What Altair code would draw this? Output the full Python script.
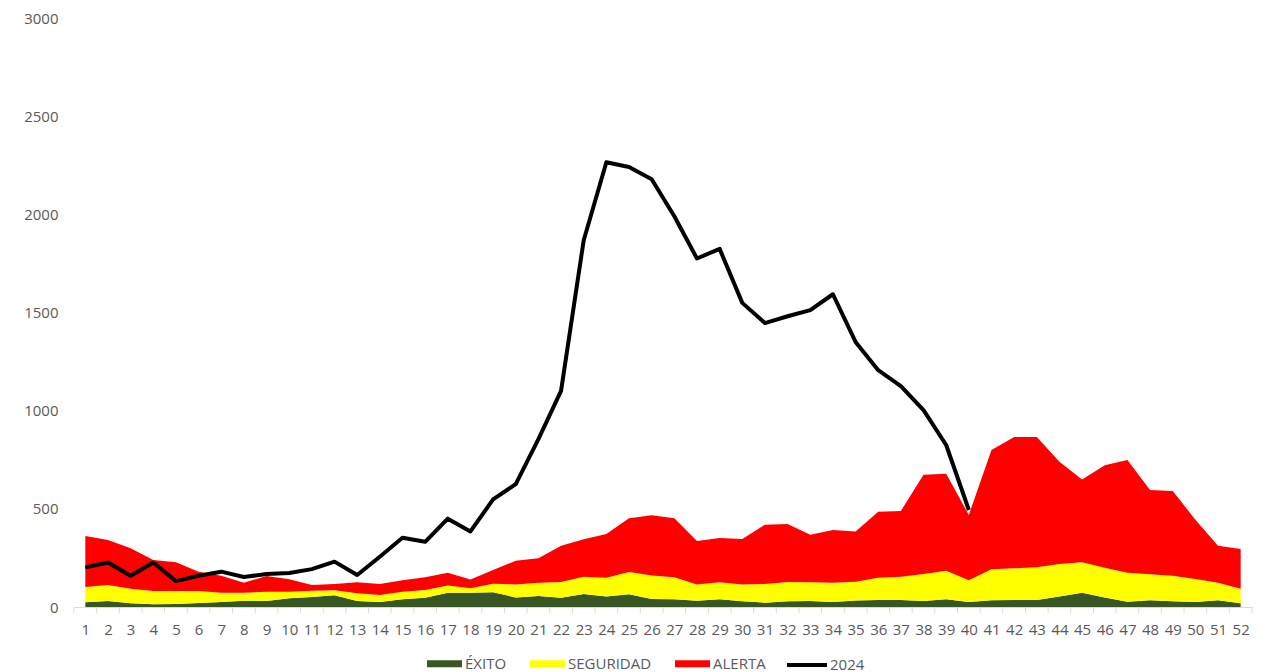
import altair as alt
import pandas as pd

# ---- data ----
semanas = list(range(1, 53))

exito = [24, 31, 19, 14, 15, 20, 25, 32, 31, 44, 51, 60, 31, 25, 39, 47, 73, 72, 75, 49,
         56, 47, 66, 53, 65, 41, 39, 32, 39, 29, 22, 29, 31, 25, 33, 36, 36, 31, 39, 25,
         34, 36, 36, 53, 73, 49, 27, 34, 29, 25, 34, 19]

seguridad = [78, 81, 74, 67, 66, 61, 48, 41, 47, 34, 32, 25, 39, 36, 39, 40, 37, 24, 44, 66,
             68, 80, 88, 96, 113, 120, 112, 83, 87, 85, 95, 98, 95, 99, 96, 113, 118, 137, 146, 111,
             158, 161, 166, 166, 155, 151, 148, 133, 130, 118, 90, 74]

alerta = [260, 229, 206, 158, 147, 99, 86, 51, 80, 63, 29, 32, 56, 56, 58, 64, 65, 44, 69, 121,
          124, 185, 191, 223, 274, 306, 301, 221, 225, 232, 302, 296, 242, 268, 255, 336, 335, 506, 494, 333,
          608, 669, 664, 521, 422, 522, 574, 429, 432, 302, 188, 202]

casos_2024 = [202, 227, 159, 227, 132, 159, 180, 153, 168, 173, 193, 231, 163, 256, 353, 332, 450, 385, 548, 626,
              855, 1101, 1868, 2265, 2241, 2179, 1990, 1775, 1824, 1549, 1446, 1481, 1512, 1593, 1350, 1206, 1125, 1003, 825, 494]

series = ["ÉXITO", "SEGURIDAD", "ALERTA"]
colores = ["#375623", "#FFFF00", "#FF0000"]
y_ticks = [0, 500, 1000, 1500, 2000, 2500, 3000]

# ---- tables ----
rows = []
for k, (nombre, vals) in enumerate(zip(series, [exito, seguridad, alerta])):
    for s, v in zip(semanas, vals):
        rows.append({"semana": s, "valor": v, "serie": nombre, "orden": k})
df_area = pd.DataFrame(rows)
df_line = pd.DataFrame({"semana": semanas[:len(casos_2024)], "valor": casos_2024, "serie": "2024"})
df_ticks = pd.DataFrame({"semana": [s - 0.5 for s in semanas] + [semanas[-1] + 0.5]})

FONT = "Open Sans"
GRAY = "#595959"
W, H = 1178, 589

xscale = alt.Scale(domain=[0.5, 52.5], nice=False, zero=False)
yscale = alt.Scale(domain=[0, 3000], nice=False)

xaxis = alt.Axis(values=semanas, ticks=False, grid=False, title=None, format="d",
                 labelPadding=15, labelFontSize=15, labelColor=GRAY, labelFont=FONT,
                 domainColor="#d9d9d9", domainWidth=1, labelFlush=False, labelOverlap=False,
                 labelBound=False)
yaxis = alt.Axis(values=y_ticks, grid=False, domain=False, ticks=False, title=None, format="d",
                 labelPadding=16, labelFontSize=15, labelColor=GRAY, labelFont=FONT,
                 labelOverlap=False)

areas = alt.Chart(df_area).mark_area(interpolate="linear", opacity=1).encode(
    x=alt.X("semana:Q", scale=xscale, axis=xaxis),
    y=alt.Y("valor:Q", stack="zero", scale=yscale, axis=yaxis),
    fill=alt.Fill("serie:N", scale=alt.Scale(domain=series, range=colores),
                  legend=alt.Legend(orient="none", legendX=353, legendY=628, direction="horizontal",
                                    title=None, symbolType="M-1,-0.2H1V0.2H-1Z", symbolSize=1225,
                                    symbolStrokeWidth=0, symbolOpacity=1, labelFontSize=15,
                                    labelColor=GRAY, labelFont=FONT, labelOffset=3, columnPadding=23)),
    order=alt.Order("orden:Q"),
)

tick_marks = alt.Chart(df_ticks).mark_rule(color="#d9d9d9", strokeWidth=1).encode(
    x=alt.X("semana:Q", scale=xscale, axis=xaxis),
    y=alt.value(H),
    y2=alt.value(H + 6),
)

linea = alt.Chart(df_line).mark_line(strokeWidth=4, strokeJoin="round").encode(
    x=alt.X("semana:Q", scale=xscale, axis=xaxis),
    y=alt.Y("valor:Q", scale=yscale, axis=yaxis),
    stroke=alt.Stroke("serie:N", scale=alt.Scale(domain=["2024"], range=["#000000"]),
                      legend=alt.Legend(orient="none", legendX=711, legendY=625, title=None,
                                        symbolType="stroke", symbolSize=1600, symbolStrokeWidth=4,
                                        labelFontSize=15, labelColor=GRAY, labelFont=FONT, labelOffset=1)),
)

chart = alt.layer(areas, tick_marks, linea).resolve_scale(fill="independent", stroke="independent").properties(
    width=W, height=H,
    autosize=alt.AutoSizeParams(type="none"),
    padding={"left": 66, "top": 10, "right": 1, "bottom": 66},
).configure(background="white").configure_view(stroke=None)

chart.save("out.html", embed_options={"renderer": "svg", "actions": False})
